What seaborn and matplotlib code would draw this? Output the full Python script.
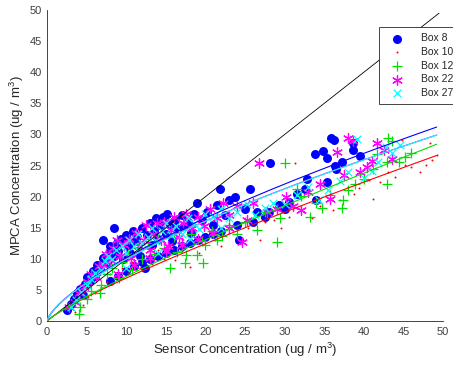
# Sensor vs MPCA concentration, one scatter + power-law fit per box.

import matplotlib
matplotlib.use("Agg")

import matplotlib.pyplot as plt
import numpy as np
import pandas as pd
import seaborn as sns

sns.set_theme(style="white")
plt.rcParams["font.family"] = ["Liberation Sans", "DejaVu Sans"]
plt.rcParams["mathtext.default"] = "regular"

# values (sensor x, MPCA y); the lower part of each cloud
# is mostly hidden under the other markers
box8X = [2.5, 3.0, 3.4, 3.8, 4.2, 4.5, 4.8, 5.0, 5.4, 5.8, 6.0, 6.3, 6.7, 7.0, 7.1,
         7.5, 7.8, 8.0, 8.4, 8.5, 8.8, 9.0, 9.3, 9.6, 10.0, 10.2, 10.5, 10.8, 11.0,
         11.4, 11.7, 12.0, 12.4, 12.6, 13.0, 13.2, 13.5, 13.8, 14.0, 14.3, 14.6, 15.0,
         15.2, 15.5, 15.8, 16.2, 16.5, 17.0, 17.3, 17.8, 18.2, 18.6, 18.9, 19.5, 20.2,
         21.0, 21.4, 21.8, 22.5, 23.0, 23.7, 24.2, 25.0, 25.6, 26.5, 27.5, 28.2, 29.3,
         30.5, 31.5, 32.6, 32.8, 33.8, 34.0, 34.8, 35.3, 35.3, 35.9, 36.2, 36.4, 36.5,
         37.3, 38.6, 38.6, 39.5,
         8.0, 9.0, 10.0, 11.0, 12.0, 13.0, 14.0, 15.0, 16.0, 17.0, 18.0, 19.0, 20.0,
         21.0, 22.0, 24.0, 26.0, 28.0, 30.0]
box8Y = [1.8, 2.8, 3.6, 4.5, 5.2, 4.2, 6.0, 7.0, 6.5, 8.0, 7.2, 9.0, 8.5, 10.2, 13.0,
         9.5, 11.0, 12.0, 14.9, 10.5, 12.5, 11.3, 13.2, 10.0, 13.8, 12.0, 11.0, 14.5, 12.8,
         13.5, 10.5, 15.0, 8.5, 13.8, 15.8, 12.3, 14.5, 16.5, 13.2, 15.5, 16.8, 14.0,
         17.2, 15.6, 12.8, 16.3, 14.8, 17.0, 15.2, 16.0, 14.2, 17.2, 18.9, 16.2, 17.5,
         15.5, 18.6, 21.3, 17.0, 19.5, 20.0, 13.0, 18.0, 21.2, 17.5, 16.8, 25.4, 18.6,
         19.2, 20.5, 21.2, 22.8, 26.8, 19.5, 27.4, 26.2, 22.4, 29.4, 29.1, 25.0, 24.4,
         25.6, 28.6, 27.5, 26.5,
         6.5, 7.2, 8.0, 8.8, 9.5, 10.0, 10.5, 11.0, 11.5, 12.0, 12.5, 13.0, 13.5,
         14.0, 14.5, 15.5, 16.0, 17.5, 18.0]

box10X = [3.5, 4.5, 5.2, 6.0, 6.8, 7.5, 8.0, 8.8, 9.5, 10.2, 10.7, 11.7, 12.5, 13.2,
          14.0, 14.8, 15.5, 16.2, 17.0, 18.0, 18.5, 19.2, 20.4, 21.2, 22.0, 23.0, 24.0,
          25.4, 26.9, 27.5, 28.6, 29.5, 30.5, 31.3, 32.5, 33.5, 34.5, 36.1, 37.0, 38.0,
          38.7, 39.4, 40.6, 41.2, 42.0, 43.0, 43.9, 44.8, 45.2, 46.0, 47.1, 47.9, 48.4,
          48.6, 49.2]
box10Y = [1.5, 2.5, 3.8, 4.5, 5.5, 6.2, 7.5, 7.0, 8.5, 7.8, 9.5, 8.5, 10.5, 9.2,
          11.5, 10.0, 12.0, 9.8, 11.2, 8.7, 12.5, 11.0, 14.4, 13.0, 12.0, 14.2, 15.5,
          14.9, 13.0, 16.0, 16.2, 15.0, 16.8, 25.4, 17.5, 16.5, 18.5, 17.8, 19.5, 21.5,
          20.4, 21.4, 22.7, 19.6, 22.4, 24.0, 23.1, 29.1, 25.1, 24.8, 24.0, 25.1, 28.6,
          25.9, 26.7]

box12X = [4.0, 4.2, 5.0, 5.5, 6.7, 6.8, 7.5, 8.2, 9.1, 9.5, 10.2, 10.7, 11.5, 12.0,
          12.8, 13.5, 14.0, 14.8, 15.5, 16.0, 16.4, 17.0, 17.4, 17.6, 18.2, 18.9, 19.5,
          19.7, 19.9, 20.8, 21.5, 22.1, 23.0, 24.0, 25.0, 26.5, 27.5, 29.0, 29.4, 30.1,
          31.5, 32.0, 33.2, 34.0, 34.7, 35.7, 37.2, 37.4, 38.0, 38.9, 40.0, 41.2, 41.6,
          42.9, 42.9, 43.1, 43.5, 44.4, 45.2, 46.0]
box12Y = [1.2, 2.3, 3.5, 4.8, 4.5, 5.8, 7.5, 8.5, 6.9, 9.5, 10.8, 8.2, 11.8, 10.0,
          12.5, 10.8, 13.2, 11.8, 8.5, 13.5, 11.1, 12.5, 9.3, 10.6, 14.0, 10.6, 12.8,
          9.3, 12.2, 14.5, 13.0, 13.6, 15.5, 14.0, 16.0, 14.6, 17.5, 12.7, 16.5, 25.4,
          21.3, 20.1, 16.8, 19.0, 18.1, 20.3, 18.1, 19.4, 21.0, 22.1, 22.8, 24.5, 26.9,
          22.1, 25.6, 29.5, 29.0, 25.6, 26.4, 27.0]

box22X = [2.8, 3.5, 4.0, 4.6, 5.2, 5.6, 6.2, 6.5, 7.0, 7.4, 7.9, 8.3, 8.8, 9.2, 9.7,
          10.3, 10.6, 11.2, 11.6, 12.2, 12.5, 13.0, 13.4, 13.9, 14.4, 14.8, 15.3, 15.6,
          16.0, 16.6, 17.2, 17.6, 18.3, 19.0, 19.8, 20.6, 21.5, 22.2, 23.0, 24.0, 24.6,
          25.2, 26.0, 26.8, 27.8, 29.0, 30.2, 31.0, 32.0, 33.0, 34.5, 35.7, 36.6, 37.5,
          38.0, 38.6, 39.5, 40.4, 41.0, 41.6, 42.6, 43.5,
          9.0, 11.0, 13.0, 15.0, 17.0, 19.0, 21.0, 23.0]
box22Y = [2.2, 3.0, 4.5, 5.5, 6.3, 7.5, 7.0, 8.8, 9.0, 10.8, 9.8, 11.8, 13.0, 10.5, 12.2,
          13.2, 10.2, 14.2, 12.0, 13.0, 15.4, 11.5, 14.0, 15.8, 13.0, 16.0, 12.0, 14.7,
          16.8, 13.5, 15.8, 17.2, 15.0, 16.8, 15.2, 18.0, 16.5, 19.0, 17.0, 18.5, 12.7,
          16.2, 19.0, 25.4, 17.5, 18.0, 20.0, 18.5, 17.8, 20.8, 22.0, 19.6, 27.2, 23.5,
          29.5, 28.9, 24.0, 24.8, 25.8, 28.6, 27.5, 26.0,
          7.5, 9.0, 10.2, 11.2, 12.3, 13.2, 14.2, 15.0]

box27X = [3.0, 3.7, 4.3, 5.0, 5.5, 6.1, 6.8, 7.3, 7.7, 8.2, 8.7, 9.4, 9.9, 10.4, 11.0,
          11.5, 12.0, 12.8, 13.3, 13.8, 14.5, 15.0, 15.6, 16.3, 17.0, 17.8, 18.5, 19.2,
          20.0, 21.0, 22.0, 23.0, 24.0, 25.2, 26.2, 27.5, 28.5, 30.0, 31.5, 33.0, 34.3,
          35.5, 37.0, 38.0, 39.1, 40.0, 41.0, 41.8, 42.8, 43.5, 44.6,
          10.0, 14.0, 18.0, 22.0]
box27Y = [2.2, 3.4, 4.6, 5.8, 6.8, 7.8, 8.2, 9.6, 10.5, 10.0, 11.5, 12.0, 11.0, 13.0, 12.0,
          14.0, 12.5, 13.5, 15.0, 12.8, 14.5, 15.8, 13.8, 15.2, 14.0, 16.5, 15.8, 14.8,
          17.2, 16.8, 18.0, 16.5, 17.5, 18.8, 17.0, 18.2, 19.0, 18.8, 20.2, 21.5, 19.5,
          21.0, 22.5, 24.0, 29.2, 23.0, 24.2, 25.6, 28.0, 27.0, 28.3,
          8.5, 11.0, 13.2, 15.0]

boxNames = ["Box 8", "Box 10", "Box 12", "Box 22", "Box 27"]
boxColors = ["#0000ff", "#ff0000", "#00e000", "#ff00ff", "#00ffff"]
boxMarkers = ["o", ".", "+", (6, 2, 0), "x"]
boxSizes = [42, 8, 55, 50, 30]

boxData = [(box8X, box8Y), (box10X, box10Y), (box12X, box12Y),
           (box22X, box22Y), (box27X, box27Y)]

fig = plt.figure(figsize=(4.53, 3.72), dpi=100)
ax = fig.add_axes([0.104, 0.137, 0.874, 0.836])

for (xs, ys), name, color, marker, size in zip(boxData, boxNames, boxColors, boxMarkers, boxSizes):
    df = pd.DataFrame({"x": xs, "y": ys})
    filled = marker in ("o", ".")
    sns.scatterplot(data=df, x="x", y="y", marker=marker, s=size, color=color,
                    edgecolor=color if filled else None,
                    linewidth=0 if filled else 0.9,
                    label=name, ax=ax, zorder=2)

# 1:1 line
ax.plot([0, 49.5], [0, 49.5], color="black", linewidth=0.6, zorder=3)

# power-law fit for each box (fit in log space), y = k * x^p
xGrid = np.linspace(0.01, 49.2, 400)
for (xs, ys), color in zip(boxData, boxColors):
    p, logK = np.polyfit(np.log(xs), np.log(ys), 1)
    fitDf = pd.DataFrame({"x": xGrid, "y": np.exp(logK) * xGrid ** p})
    sns.lineplot(data=fitDf, x="x", y="y", color=color, linewidth=0.8,
                 label="_nolegend_", ax=ax, zorder=4)

ax.set_xlim(0, 50)
ax.set_ylim(0, 50)
ax.set_xticks(range(0, 51, 5))
ax.set_yticks(range(0, 51, 5))
ax.tick_params(direction="in", length=3, width=0.6, colors="#262626",
               labelsize=8, labelcolor="#404040", pad=4)
for side in ["top", "right"]:
    ax.spines[side].set_visible(False)
for side in ["left", "bottom"]:
    ax.spines[side].set_color("#262626")
    ax.spines[side].set_linewidth(0.6)

ax.set_xlabel("Sensor Concentration (ug / m$^3$)", fontsize=9.5, color="#262626", labelpad=3)
ax.set_ylabel("MPCA Concentration (ug / m$^3$)", fontsize=9.5, color="#262626", labelpad=2)

leg = ax.legend(loc="upper left", bbox_to_anchor=(374 / 453, 1 - 22 / 372),
                bbox_transform=fig.transFigure, fontsize=7.5, frameon=True,
                fancybox=False, edgecolor="#262626", framealpha=1,
                borderpad=0.6, labelspacing=0.35, handletextpad=1.2, handlelength=2.2)
leg.get_frame().set_linewidth(0.6)

fig.savefig("out.png", dpi=100)
